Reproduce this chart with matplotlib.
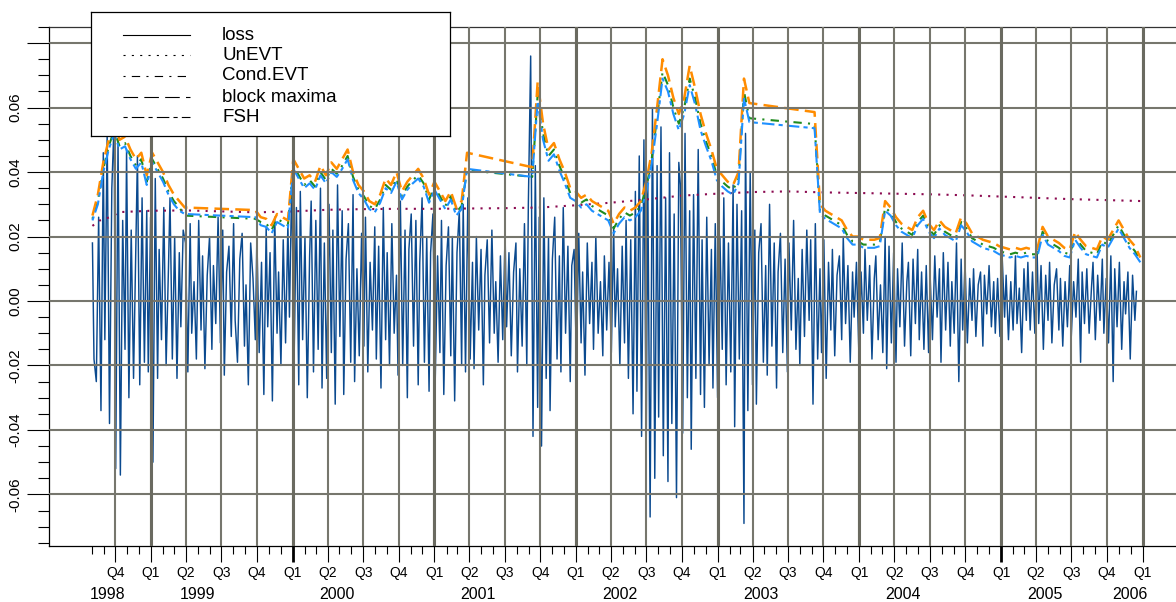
import numpy as np
import pandas as pd
import matplotlib
matplotlib.use("Agg")
import matplotlib.pyplot as plt

plt.rcParams['font.family'] = ['Liberation Sans', 'DejaVu Sans']
plt.rcParams['lines.scale_dashes'] = False

W, H = 1176, 602
nan = np.nan

# loss, one value every 4 business days from 1998-08-03 (in percent), grouped by quarter
loss_pct = [
    # 1998 Q3 (from Aug)
    1.8, -1.8, -2.5, 2.6, -3.4, 4.6, -1.2, 5.2, -3.8, 3.5, 5.6,
    # 1998 Q4
    -5.2, 5.0, -5.4, 2.5, -1.5, 4.7, -3.0, 2.2, -2.4, 1.8, 4.5, -2.6, 3.2, -1.9, 2.8, -2.2,
    # 1999
    2.6, -5.0, 3.8, -2.4, 1.6, -1.2, 2.9, -2.0, 1.0, 3.2, -1.8, 2.0, -2.4, 1.5, -0.8, 2.2,
    1.8, -2.2, 2.4, -1.0, 0.6, -1.8, 2.5, -0.9, 1.4, -2.1, 0.8, 2.0, -1.5, 1.1, -0.7, 2.6,
    -1.3, 2.2, -2.3, 0.9, 1.7, -1.1, 2.4, -0.6, -1.9, 1.3, 2.1, -1.4, 0.5, -2.6, 1.8, 0.7, -1.2,
    2.0, -1.6, 1.2, -2.9, 2.3, -0.8, 1.5, -3.1, 2.6, -1.0, 0.9, -2.0, 1.9, -1.3, 2.4, -0.5,
    # 2000
    3.8, -1.8, 2.9, -2.6, 3.4, -1.2, 2.0, -3.0, 1.4, 3.1, -2.2, 2.5, -1.5, 3.5, -2.7, 1.8,
    -2.4, 3.0, -1.6, 2.2, -3.2, 3.6, -1.1, 2.8, -2.9, 1.3, 2.4, -1.9, 3.3, -2.5, 1.0, -1.7,
    2.1, -1.4, 2.6, -2.2, 1.2, -0.9, 2.3, -1.8, 1.7, -2.7, 2.9, -1.2, 1.5, -2.0, 2.4, -1.0, 0.8,
    -2.3, 3.1, -2.0, 2.2, -3.0, 1.6, 2.7, -1.4, 2.5, -2.6, 1.2, 3.2, -1.9, 2.0, -2.8, 1.5,
    # 2001
    2.7, -2.4, 1.4, -1.6, 2.5, -2.9, 1.1, 2.3, -1.7, 2.0, -3.1, 1.5, 2.8, -2.0, 3.0, -2.2,
    3.2, -1.8, 1.2, -2.1, 2.0, -0.9, 1.6, -2.6, 0.8, 1.9, -1.3, 2.2, -1.0, 0.6, -1.9, 1.4,
    -1.2, 2.1, -0.8, 1.5, -1.7, 0.9, 1.8, -2.2, 1.0, -1.4, 2.4, -2.0, 3.0, 7.6, -4.2, 4.2, -3.3,
    2.6, -4.5, 3.2, -2.4, 2.0, -3.4, 1.3, 2.6, -1.8, 1.4, -2.2, 2.9, -1.0, 1.7, -2.5, 1.1,
    # 2002
    1.6, -1.9, 2.1, -1.3, 0.9, -2.3, 1.8, -0.7, 1.2, -1.5, 2.0, -1.0, 0.6, -1.7, 1.4, -0.9,
    1.2, -1.6, 2.3, -0.8, 1.0, -2.0, 1.7, -1.3, 2.5, -2.4, 1.9, -3.5, 3.4, -2.8, 4.5, -4.2,
    5.0, -4.4, 3.8, -6.7, 6.0, -5.5, 4.2, -3.6, 5.4, -4.8, 3.2, -5.6, 4.6, -3.8, 2.7, -6.1, 4.3,
    3.6, -4.1, 5.2, -3.0, 2.8, -4.6, 3.3, -2.4, 4.7, -2.9, 1.9, -3.3, 2.6, -2.0, 1.6, -2.7,
    # 2003
    2.4, -3.0, 2.0, -1.5, 3.2, -2.6, 1.8, -2.2, 3.6, -3.9, 3.0, -1.8, 2.8, -6.9, 5.2, -3.4,
    4.0, -2.6, 2.2, -3.2, 1.5, 2.4, -1.9, 1.1, -2.3, 3.0, -1.4, 1.8, -2.7, 0.9, 2.1, -1.6,
    1.3, -2.2, 1.8, -0.9, 2.5, -1.5, 0.7, -2.0, 1.6, -1.1, 2.2, -0.6, 1.9, -3.2, 2.4, -1.8, 1.0,
    -1.6, 1.9, -2.4, 1.2, -0.9, 1.6, -1.7, 0.8, 1.4, -1.2, 2.0, -0.7, 1.1, -1.9, 0.9, -0.5,
    # 2004
    1.2, -1.5, 0.9, -1.0, 1.6, -0.6, 1.1, -1.8, 0.7, 1.4, -1.2, 0.5, -1.6, 2.0, -2.1, 1.7,
    -1.3, 1.5, -1.9, 1.0, -0.8, 1.8, -1.4, 0.6, 1.2, -1.7, 1.3, -0.7, 1.6, -1.2, 0.9, -1.5,
    1.1, -1.6, 0.8, -1.2, 1.4, -0.5, 1.0, -1.9, 1.5, -0.9, 1.2, -1.4, 0.6, -1.0, 1.8, -2.5, 1.3,
    -0.9, 1.2, -1.3, 0.7, -0.6, 1.0, -1.1, 0.5, 0.9, -1.4, 0.8, -0.4, 1.1, -0.8, 0.6, -1.0,
    # 2005
    0.7, -1.1, 1.3, -0.5, 0.8, -1.2, 0.6, -0.9, 1.4, -0.7, 0.4, -1.6, 1.0, -0.6, 1.2, -0.9,
    0.9, -1.0, 1.5, -0.7, 1.1, -1.5, 0.8, -0.6, 1.2, -1.3, 0.5, 1.0, -0.9, 0.7, -1.4, 0.6,
    -0.8, 1.1, -1.1, 0.6, -0.5, 1.3, -1.9, 0.9, -0.7, 1.0, -1.0, 0.4, 1.2, -1.2, 0.8, -0.6, 1.3,
    -1.0, 0.7, -1.3, 1.4, -2.5, 1.0, -0.8, 1.2, -1.5, 0.6, -0.4, 0.9, -1.8, 0.8, -0.6, 0.3,
]

# VaR estimates, one value every 14 days from 1998-08-03 (percent), nan = no estimate
block_maxima_pct = [
    2.65, 3.3, 4.3, 5.0, 5.5, 5.0, 5.1, 4.7, 4.4, 4.6, 3.9, 4.6, 4.3, 4.0, 3.6, 3.3, 3.1, 2.9,
    nan, nan, nan, nan, nan, nan, nan, nan, nan, nan, nan, nan,
    2.82, 2.6, 2.55, 2.35, 2.7, 2.6, 2.5, 4.4, 4.1, 3.8, 3.9, 3.7, 4.2, 3.9, 4.3, 4.1, 4.4, 4.7, 4.0, 3.6,
    3.4, 3.1, 3.0, 3.3, 3.8, 3.6, 4.0, 3.4, 3.7, 3.9, 4.1, 3.8, 3.3, 3.7, 3.4, 3.1, 3.4, 2.9, 3.1, 4.6,
    nan, nan, nan, nan, nan, nan, nan, nan, nan, nan, nan,
    4.15, 6.8, 5.5, 4.7, 4.9, 4.4, 4.0, 3.5, 3.4, 3.2, 3.3, 3.1, 3.0, 2.9, 2.8, 2.4, 2.7, 2.9, 2.8, 2.9,
    3.1, 3.7, 4.6, 6.0, 7.5, 7.0, 6.3, 5.8, 6.3, 7.3, 6.6, 5.8, 5.2, 4.7, 4.1, 3.9, 3.7, 3.6, 4.0, 6.9, 6.14,
    nan, nan, nan, nan, nan, nan, nan, nan, nan, nan, nan,
    5.86, 3.0, 2.8, 2.7, 2.6, 2.5, 2.2, 2.0, 2.0, 1.9, 1.9, 1.9, 1.95, 3.1, 2.9, 2.6, 2.4, 2.3, 2.2, 2.6,
    2.8, 2.4, 2.2, 2.5, 2.3, 2.2, 2.1, 2.6, 2.4, 2.1, 2.0, 1.9, 1.85, 1.8, 1.7, 1.65, 1.6, 1.65, 1.6, 1.65,
    1.6, 1.6, 2.3, 2.0, 1.9, 1.8, 1.65, 1.6, 2.15, 1.9, 1.7, 1.65, 1.6, 2.0, 1.9, 2.2, 2.5, 2.2, 1.9, 1.7, 1.35,
]
cond_evt_pct = [
    2.55, 3.1, 4.1, 4.8, 5.3, 4.8, 4.9, 4.5, 4.2, 4.4, 3.7, 4.4, 4.1, 3.8, 3.4, 3.1, 2.9, 2.65,
    nan, nan, nan, nan, nan, nan, nan, nan, nan, nan, nan, nan,
    2.55, 2.45, 2.4, 2.2, 2.55, 2.45, 2.35, 4.2, 3.9, 3.6, 3.75, 3.55, 4.0, 3.75, 4.1, 3.95, 4.2, 4.5, 3.85, 3.45,
    3.25, 2.95, 2.85, 3.15, 3.6, 3.45, 3.8, 3.25, 3.55, 3.75, 3.9, 3.65, 3.15, 3.55, 3.25, 2.95, 3.25, 2.75, 2.95, 4.06,
    nan, nan, nan, nan, nan, nan, nan, nan, nan, nan, nan,
    3.85, 6.4, 5.2, 4.5, 4.7, 4.2, 3.8, 3.35, 3.25, 3.05, 3.15, 2.95, 2.85, 2.75, 2.65, 2.25, 2.55, 2.75, 2.65, 2.75,
    2.95, 3.5, 4.4, 5.7, 7.1, 6.7, 6.0, 5.5, 6.0, 6.9, 6.3, 5.5, 4.95, 4.5, 3.9, 3.7, 3.55, 3.45, 3.8, 6.5, 5.67,
    nan, nan, nan, nan, nan, nan, nan, nan, nan, nan, nan,
    5.49, 2.8, 2.65, 2.55, 2.45, 2.35, 2.05, 1.85, 1.85, 1.75, 1.75, 1.75, 1.8, 2.9, 2.75, 2.45, 2.25, 2.15, 2.05, 2.45,
    2.65, 2.25, 2.05, 2.35, 2.15, 2.05, 1.95, 2.45, 2.25, 1.95, 1.85, 1.75, 1.7, 1.65, 1.55, 1.5, 1.45, 1.5, 1.45, 1.5,
    1.45, 1.45, 2.15, 1.85, 1.75, 1.65, 1.5, 1.45, 2.0, 1.75, 1.55, 1.5, 1.45, 1.85, 1.75, 2.05, 2.35, 2.05, 1.75, 1.55, 1.25,
]
fsh_pct = [
    2.5, 3.0, 4.0, 4.7, 5.2, 4.7, 4.8, 4.4, 4.1, 4.3, 3.6, 4.3, 4.0, 3.7, 3.3, 3.0, 2.8, 2.7,
    nan, nan, nan, nan, nan, nan, nan, nan, nan, nan, nan, nan,
    2.6, 2.35, 2.3, 2.1, 2.45, 2.35, 2.25, 4.1, 3.8, 3.5, 3.65, 3.45, 3.9, 3.65, 4.0, 3.85, 4.1, 4.4, 3.75, 3.35,
    3.15, 2.85, 2.75, 3.05, 3.5, 3.35, 3.7, 3.15, 3.45, 3.65, 3.8, 3.55, 3.05, 3.45, 3.15, 2.85, 3.15, 2.65, 2.85, 4.1,
    nan, nan, nan, nan, nan, nan, nan, nan, nan, nan, nan,
    3.85, 6.2, 5.0, 4.35, 4.55, 4.05, 3.65, 3.2, 3.1, 2.9, 3.0, 2.8, 2.7, 2.6, 2.5, 2.1, 2.4, 2.6, 2.5, 2.6,
    2.8, 3.35, 4.25, 5.5, 6.9, 6.5, 5.8, 5.3, 5.8, 6.7, 6.1, 5.3, 4.8, 4.35, 3.75, 3.55, 3.4, 3.3, 3.65, 6.3, 5.55,
    nan, nan, nan, nan, nan, nan, nan, nan, nan, nan, nan,
    5.36, 2.7, 2.55, 2.45, 2.35, 2.25, 1.95, 1.75, 1.75, 1.65, 1.65, 1.65, 1.7, 2.8, 2.65, 2.35, 2.15, 2.05, 1.95, 2.35,
    2.55, 2.15, 1.95, 2.25, 2.05, 1.95, 1.85, 2.35, 2.15, 1.85, 1.75, 1.65, 1.6, 1.55, 1.45, 1.4, 1.35, 1.4, 1.35, 1.4,
    1.35, 1.35, 2.05, 1.75, 1.65, 1.55, 1.4, 1.35, 1.9, 1.65, 1.45, 1.4, 1.35, 1.75, 1.65, 1.95, 2.25, 1.95, 1.65, 1.45, 1.2,
]

# unconditional EVT VaR (percent)
unevt_dates = ['1998-08-03', '1998-08-20', '1998-09-10', '1998-10-15', '1999-01-01', '1999-04-01',
               '1999-07-01', '1999-10-01', '2000-01-01', '2000-04-01', '2000-07-01', '2000-10-01',
               '2001-01-01', '2001-04-01', '2001-07-01', '2001-10-01', '2002-01-01', '2002-04-01',
               '2002-07-01', '2002-10-01', '2003-01-01', '2003-04-01', '2003-07-01', '2003-10-01',
               '2004-01-01', '2004-04-01', '2004-07-01', '2004-10-01', '2005-01-01', '2005-04-01',
               '2005-07-01', '2005-10-01', '2005-12-30']
unevt_pct = [2.33, 2.49, 2.57, 2.76, 2.80, 2.81, 2.78, 2.75, 2.78, 2.83, 2.85, 2.86,
             2.86, 2.87, 2.88, 2.90, 2.97, 3.05, 3.15, 3.27, 3.33, 3.38, 3.40, 3.37,
             3.35, 3.33, 3.31, 3.28, 3.24, 3.20, 3.16, 3.13, 3.10]

year_labels = ['1998', '1999', '2000', '2001', '2002', '2003', '2004', '2005', '2006']
year_label_dates = ['1998-09-10', '1999-04-30', '2000-04-25', '2001-04-23', '2002-04-24',
                    '2003-04-23', '2004-04-23', '2005-04-23', '2005-11-29']

legend_names = ['loss', 'UnEVT', 'Cond.EVT', 'block maxima', 'FSH']

loss = np.array(loss_pct) / 100
loss_dates = pd.bdate_range('1998-08-03', periods=len(loss), freq='4B')
var_dates = pd.date_range('1998-08-03', periods=len(block_maxima_pct), freq='14D')

dotted = (0, (1.5, 4.5))
dotdash = (0, (1.5, 4.5, 6, 4.5))
longdash = (0, (10.5, 4.5))
twodash = (0, (3, 3, 9, 3))

fig = plt.figure(figsize=(W / 100, H / 100), dpi=100)
ax = fig.add_axes([49 / W, 1 - 546 / H, 1 - 49 / W, 519 / H])

ax.plot(loss_dates, loss, color='#0b4a8f', lw=1.05, zorder=2)
ax.plot(pd.to_datetime(unevt_dates), np.array(unevt_pct) / 100, color='#8b0a50',
        lw=1.5, ls=dotted, zorder=2)

for vals, col, ls, lw in [(cond_evt_pct, '#1f8b1f', dotdash, 1.5),
                          (block_maxima_pct, '#ff8c00', longdash, 1.8),
                          (fsh_pct, '#1e90ff', twodash, 1.5)]:
    v = np.array(vals) / 100
    ok = ~np.isnan(v)
    ax.plot(var_dates[ok], v[ok], color=col, ls=ls, lw=lw, zorder=2)

ax.set_xlim(pd.Timestamp('1998-04-13'), pd.Timestamp('2006-03-28'))
ax.set_ylim(-0.076, 0.085)

# x axis: months, quarters, years
months = pd.date_range('1998-08-01', '2006-01-01', freq='MS')
quarters = pd.date_range('1998-10-01', '2006-01-01', freq='QS')
ax.set_xticks(quarters)
ax.set_xticklabels(['Q%d' % q.quarter for q in quarters])
ax.set_xticks(months, minor=True)
ax.tick_params(axis='x', which='major', length=11.5, width=0.8, labelsize=10, pad=3)
ax.tick_params(axis='x', which='minor', length=6, width=0.8)
for k, q in enumerate(quarters):
    if q.month == 1 and q.year in (2000, 2005):
        ax.xaxis.get_major_ticks()[k].tick1line.set_markeredgewidth(2)

for lab, d in zip(year_labels, year_label_dates):
    ax.text(pd.Timestamp(d), -0.0925, lab, transform=ax.get_xaxis_transform(),
            ha='center', va='center', fontsize=11.5)

# y axis
yt = np.arange(-0.06, 0.0801, 0.02)
ax.set_yticks(yt)
ax.set_yticklabels(['%.2f' % v if v < 0.07 else '' for v in yt])
ax.set_yticks(np.arange(-0.075, 0.0851, 0.005), minor=True)
ax.tick_params(axis='y', which='major', length=16, width=0.8, labelsize=11,
               labelrotation=90, pad=3)
ax.tick_params(axis='y', which='minor', length=8, width=0.8)
for t in ax.get_yticklabels():
    t.set_va('center')

# grid on top of the data
ax.set_axisbelow(False)
ax.grid(True, which='major', color='#76766d', lw=1.5)
for y in range(1999, 2007):
    ax.axvline(pd.Timestamp('%d-01-01' % y), color='#6a6a60', lw=2.2, zorder=2.6)

ax.spines['right'].set_visible(False)
for s in ('left', 'bottom', 'top'):
    ax.spines[s].set_linewidth(0.9)
    ax.spines[s].set_color('black')
ax.spines['top'].set_color('#333333')

# legend box (partly above the plot region)
lax = fig.add_axes([91 / W, 1 - 136 / H, 359 / W, 124 / H])
lax.set_xlim(0, 359)
lax.set_ylim(124, 0)
lax.set_xticks([])
lax.set_yticks([])
for s in lax.spines.values():
    s.set_linewidth(0.9)
rows = [23, 43, 64, 85, 105]
styles = ['-', dotted, dotdash, longdash, twodash]
for name, y, ls in zip(legend_names, rows, styles):
    lax.plot([32, 99], [y, y], color='black', lw=0.8, ls=ls)
    lax.text(131, y, name, ha='left', va='center', fontsize=13.5)

fig.savefig('out.png', dpi=100)
